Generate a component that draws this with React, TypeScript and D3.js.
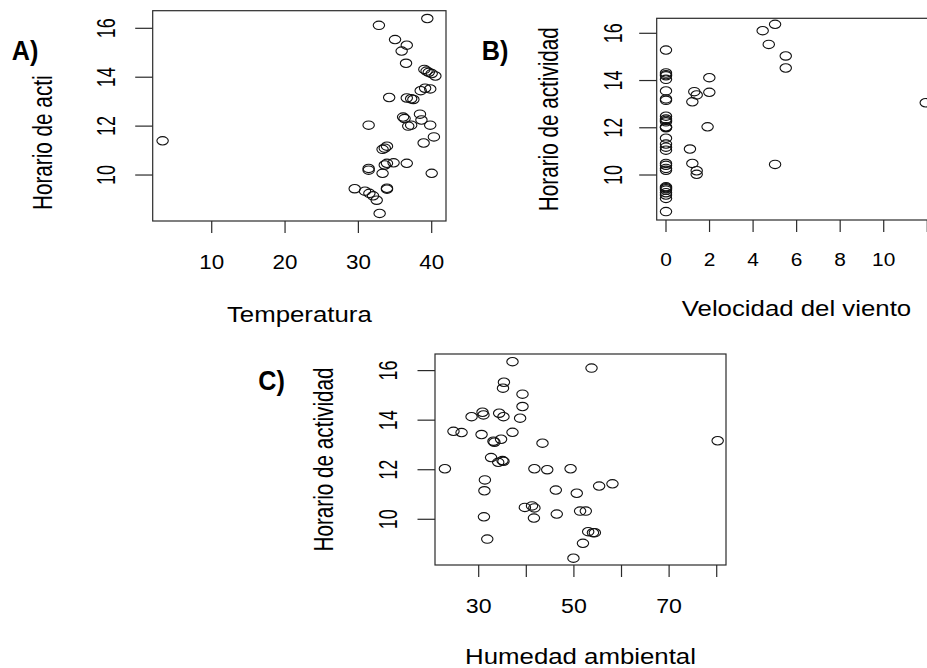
import React from "react";
import * as d3 from "d3";

// Panel A: Temperatura vs Horario de actividad
const tempA = [32.8, 39.4, 35.0, 36.6, 35.9, 36.5, 39.0, 39.3, 39.6, 40.0, 40.5, 34.2, 36.6, 37.2, 37.5, 38.5, 39.1, 39.8, 31.4, 36.1, 36.3, 36.8, 37.2, 38.4, 38.6, 39.8, 40.3, 38.9, 33.3, 33.6, 33.9, 31.4, 31.4, 33.6, 33.9, 34.8, 33.3, 36.6, 40.0, 29.5, 30.9, 31.5, 32.0, 33.9, 33.9, 32.5, 32.9, 3.3];
const horaA = [16.12, 16.4, 15.54, 15.31, 15.07, 14.57, 14.32, 14.25, 14.2, 14.15, 14.05, 13.17, 13.15, 13.12, 13.09, 13.45, 13.55, 13.52, 12.04, 12.37, 12.31, 12.0, 12.04, 12.49, 12.25, 12.04, 11.56, 11.31, 11.05, 11.1, 11.18, 10.27, 10.2, 10.41, 10.48, 10.5, 10.07, 10.48, 10.07, 9.44, 9.34, 9.25, 9.15, 9.46, 9.42, 8.97, 8.43, 11.4];

// Panel B: Velocidad del viento vs Horario de actividad
const vientoB = [0, 0, 0, 0, 0, 0, 0, 0, 0, 0, 0, 0, 0, 0, 0, 0, 0, 0, 0, 0, 0, 0, 0, 0, 0, 0, 0, 0, 0, 0, 0, 5.01, 4.44, 4.72, 5.5, 5.5, 1.99, 1.3, 1.41, 1.21, 1.99, 1.91, 1.1, 1.21, 1.41, 1.41, 5.01, 11.93];
const horaB = [15.29, 14.32, 14.25, 14.2, 14.05, 13.56, 13.22, 13.16, 12.49, 12.37, 12.31, 12.25, 12.04, 12.0, 12.02, 11.56, 11.31, 11.18, 11.05, 10.49, 10.41, 10.28, 10.2, 9.5, 9.46, 9.42, 9.36, 9.25, 9.15, 9.01, 8.45, 16.38, 16.11, 15.53, 15.04, 14.53, 14.12, 13.53, 13.39, 13.1, 13.5, 12.04, 11.1, 10.49, 10.18, 10.03, 10.45, 13.06];

// Panel C: Humedad ambiental vs Horario de actividad
const humedadC = [37.1, 35.3, 35.1, 39.2, 39.2, 38.7, 28.5, 30.8, 31.0, 34.3, 35.2, 24.7, 26.4, 30.6, 37.1, 43.4, 33.1, 33.3, 34.7, 32.6, 34.1, 35.0, 35.2, 22.9, 41.7, 44.4, 49.3, 31.3, 31.2, 46.2, 50.6, 55.3, 58.1, 39.7, 41.2, 41.7, 41.6, 46.4, 31.1, 51.3, 52.5, 31.8, 53.0, 54.0, 54.4, 51.9, 49.9, 53.7, 80.2];
const horaC = [16.36, 15.53, 15.29, 15.05, 14.55, 14.08, 14.14, 14.32, 14.21, 14.28, 14.14, 13.55, 13.5, 13.42, 13.51, 13.07, 13.15, 13.11, 13.23, 12.49, 12.3, 12.37, 12.34, 12.04, 12.04, 12.0, 12.04, 11.59, 11.15, 11.18, 11.05, 11.34, 11.43, 10.48, 10.54, 10.46, 10.05, 10.21, 10.1, 10.33, 10.33, 9.2, 9.5, 9.46, 9.46, 9.03, 8.43, 16.1, 13.17];

const yTicks = [10, 12, 14, 16];
const xTicksA = [10, 20, 30, 40];
const xTicksB = [0, 2, 4, 6, 8, 10, 12];
const xLabelsB = [0, 2, 4, 6, 8, 10];
const xTicksC = [30, 40, 50, 60, 70, 80];
const xLabelsC = [30, 50, 70];

const FONT = "'Liberation Sans', Arial, Helvetica, sans-serif";

type PanelProps = {
  xs: number[];
  ys: number[];
  xDomain: [number, number];
  yDomain: [number, number];
  box: { l: number; t: number; r: number; b: number };
  xTicks: number[];
  xLabels: number[];
  xLabelBase: number;
  xTickFont: number;
  xTickScale: number;
  yLabelBase: number;
  xTitle: string;
  xTitleBase: number;
  yTitle: string;
  yTitleBase: number;
  yTitleAnchorBottom?: number;
  panelLabel: string;
  panelLabelX: number;
  panelLabelY: number;
};

function Panel(p: PanelProps) {
  const x = d3.scaleLinear().domain(p.xDomain).range([p.box.l, p.box.r]);
  const y = d3.scaleLinear().domain(p.yDomain).range([p.box.b, p.box.t]);
  const cx = (p.box.l + p.box.r) / 2;
  const cy = (p.box.t + p.box.b) / 2;
  const stroke = "#2a2a2a";
  return (
    <g fontFamily={FONT} fill="#000">
      <rect x={p.box.l} y={p.box.t} width={p.box.r - p.box.l} height={p.box.b - p.box.t} fill="none" stroke={stroke} strokeWidth={1.2} />
      {p.xTicks.map((t) => (
        <line key={"xt" + t} x1={x(t)} x2={x(t)} y1={p.box.b} y2={p.box.b + 12} stroke={stroke} strokeWidth={1.2} />
      ))}
      {p.xLabels.map((t) => (
        <text key={"xl" + t} transform={`translate(${x(t)},${p.xLabelBase}) scale(${p.xTickScale},1)`} textAnchor="middle" fontSize={p.xTickFont}>
          {t}
        </text>
      ))}
      {yTicks.map((t) => (
        <line key={"yt" + t} x1={p.box.l - 17.5} x2={p.box.l} y1={y(t)} y2={y(t)} stroke={stroke} strokeWidth={1.2} />
      ))}
      {yTicks.map((t) => (
        <text key={"yl" + t} transform={`translate(${p.yLabelBase},${y(t)}) scale(1.42,1) rotate(-90)`} textAnchor="middle" fontSize={18}>
          {t}
        </text>
      ))}
      <text transform={`translate(${cx},${p.xTitleBase}) scale(1.2,1)`} textAnchor="middle" fontSize={21.5}>
        {p.xTitle}
      </text>
      <text
        transform={`translate(${p.yTitleBase},${p.yTitleAnchorBottom ?? cy}) scale(1.3,1) rotate(-90)`}
        textAnchor={p.yTitleAnchorBottom ? "start" : "middle"}
        fontSize={20.7}
      >
        {p.yTitle}
      </text>
      <text transform={`translate(${p.panelLabelX},${p.panelLabelY}) scale(0.9,1)`} fontSize={28} fontWeight="bold">
        {p.panelLabel}
      </text>
      {p.xs.map((v, i) => (
        <ellipse key={"p" + i} cx={x(v)} cy={y(p.ys[i])} rx={5.7} ry={4.2} fill="none" stroke="#111" strokeWidth={1.1} />
      ))}
    </g>
  );
}

export default function App() {
  return (
    <svg width={927} height={668} style={{ position: "absolute", left: 0, top: 0, background: "#fff" }}>
      <rect x={0} y={0} width={927} height={668} fill="#fff" />
      <Panel
        xs={tempA}
        ys={horaA}
        xDomain={[1.95, 41.95]}
        yDomain={[8.12, 16.72]}
        box={{ l: 152.7, t: 10.7, r: 446, b: 221 }}
        xTicks={xTicksA}
        xLabels={xTicksA}
        xLabelBase={269}
        xTickFont={20}
        xTickScale={1.12}
        yLabelBase={115}
        xTitle="Temperatura"
        xTitleBase={321.7}
        yTitle="Horario de acti"
        yTitleBase={51.7}
        yTitleAnchorBottom={210}
        panelLabel="A)"
        panelLabelX={11.7}
        panelLabelY={60}
      />
      <Panel
        xs={vientoB}
        ys={horaB}
        xDomain={[-0.427, 12.41]}
        yDomain={[8.095, 16.635]}
        box={{ l: 656.7, t: 18.3, r: 936.2, b: 220 }}
        xTicks={xTicksB}
        xLabels={xLabelsB}
        xLabelBase={266}
        xTickFont={18.5}
        xTickScale={1.13}
        yLabelBase={621.7}
        xTitle="Velocidad del viento"
        xTitleBase={316}
        yTitle="Horario de actividad"
        yTitleBase={558.3}
        panelLabel="B)"
        panelLabelX={481.7}
        panelLabelY={60}
      />
      <Panel
        xs={humedadC}
        ys={horaC}
        xDomain={[20.82, 81.95]}
        yDomain={[8.155, 16.67]}
        box={{ l: 435, t: 354, r: 726, b: 565 }}
        xTicks={xTicksC}
        xLabels={xLabelsC}
        xLabelBase={613.3}
        xTickFont={19.6}
        xTickScale={1.18}
        yLabelBase={396.7}
        xTitle="Humedad ambiental"
        xTitleBase={663.5}
        yTitle="Horario de actividad"
        yTitleBase={333.3}
        panelLabel="C)"
        panelLabelX={258.3}
        panelLabelY={390}
      />
    </svg>
  );
}
